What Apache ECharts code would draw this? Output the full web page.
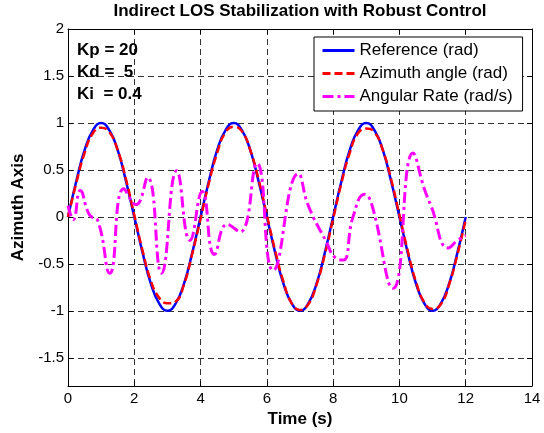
<!DOCTYPE html>
<html>
<head>
<meta charset="utf-8">
<script src="https://cdn.jsdelivr.net/npm/echarts@6/dist/echarts.min.js"></script>
<style>
  html, body { margin: 0; padding: 0; background: #fff; }
  #chart { width: 544px; height: 433px; }
</style>
</head>
<body>
<div id="chart"></div>
<script>
// time samples for the two sine-like curves (s)
const timeSteps = [0, 0.25, 0.5, 0.75, 1, 1.25, 1.5, 1.75, 2, 2.25, 2.5, 2.75, 3, 3.25, 3.5, 3.75,
    4, 4.25, 4.5, 4.75, 5, 5.25, 5.5, 5.75, 6, 6.25, 6.5, 6.75, 7, 7.25, 7.5, 7.75,
    8, 8.25, 8.5, 8.75, 9, 9.25, 9.5, 9.75, 10, 10.25, 10.5, 10.75, 11, 11.25, 11.5, 11.75, 12];

// Reference (rad)
const referenceValues = [0, 0.38, 0.71, 0.92, 1, 0.92, 0.71, 0.38, 0, -0.38, -0.71, -0.92, -1, -0.92, -0.71, -0.38,
    0, 0.38, 0.71, 0.92, 1, 0.92, 0.71, 0.38, 0, -0.38, -0.71, -0.92, -1, -0.92, -0.71, -0.38,
    0, 0.38, 0.71, 0.92, 1, 0.92, 0.71, 0.38, 0, -0.38, -0.71, -0.92, -1, -0.92, -0.71, -0.38, 0];

// Azimuth angle (rad), red dashed curve
const azimuthValues = [0, 0.36, 0.68, 0.89, 0.95, 0.9, 0.71, 0.4, 0.02, -0.36, -0.68, -0.86, -0.92, -0.9, -0.72, -0.39,
    -0.02, 0.36, 0.68, 0.9, 0.96, 0.91, 0.71, 0.4, 0.02, -0.36, -0.69, -0.92, -0.99, -0.93, -0.72, -0.4,
    -0.02, 0.36, 0.68, 0.89, 0.94, 0.9, 0.71, 0.4, 0.02, -0.36, -0.69, -0.91, -0.98, -0.93, -0.72, -0.4, -0.03];

// Angular rate (rad/s), magenta dash-dot curve: time and value pairs
const rateTimes = [0, 0.16, 0.37, 0.65, 0.9, 1.26, 1.68, 2.05, 2.4, 2.82, 3.28, 3.68, 4.05, 4.42, 4.8, 5.19,
    5.7, 6.19, 6.95, 7.25, 7.8, 8.05, 8.3, 8.6, 8.95, 9.15, 9.81, 10.41, 10.75, 10.95, 11.48, 11.75, 12];
const rateValues = [0.12, -0.03, 0.28, 0.02, -0.04, -0.6, 0.3, 0.13, 0.42, -0.6, 0.49, -0.25, 0.27, -0.4, -0.08, -0.16,
    0.57, -0.57, 0.46, 0.12, -0.27, -0.43, -0.46, 0.0, 0.24, 0.15, -0.76, 0.68, 0.3, 0.12, -0.33, -0.25, -0.2];

const yTickValues = [-1.5, -1, -0.5, 0, 0.5, 1, 1.5, 2];
const seriesNames = ['Reference (rad)', 'Azimuth angle (rad)', 'Angular Rate (rad/s)'];

const fontFamily = 'Liberation Sans, Arial, sans-serif';

function pairs(xs, ys) {
    return xs.map((x, i) => [x, ys[i]]);
}

const gridLine = {
    show: true,
    lineStyle: {color: '#333', width: 1, type: [6, 4]}
};
const axisLine = {show: true, onZero: false, lineStyle: {color: '#000', width: 1}};
const axisTick = {show: true, inside: true, length: 5, lineStyle: {color: '#000'}};

let myChart = echarts.init(document.getElementById('chart'), null, {renderer: 'canvas'});

let option = {
    backgroundColor: '#fff',
    animation: false,
    title: {
        text: 'Indirect LOS Stabilization with Robust Control',
        left: 300,
        top: 3,
        padding: 0,
        textAlign: 'center',
        textStyle: {fontFamily: fontFamily, fontSize: 17, fontWeight: 'bold', color: '#000'}
    },
    legend: {
        data: seriesNames,
        orient: 'vertical',
        left: 314,
        top: 37,
        padding: [5, 10, 6, 7],
        itemWidth: 32,
        itemHeight: 14,
        itemGap: 6,
        backgroundColor: '#fff',
        borderColor: '#000',
        borderWidth: 1,
        itemStyle: {opacity: 0},
        lineStyle: {width: 3},
        textStyle: {fontFamily: fontFamily, fontSize: 17, color: '#000', lineHeight: 17}
    },
    grid: {left: 68, right: 12, top: 29, bottom: 44},
    xAxis: [
        {
            type: 'value',
            min: 0,
            max: 14,
            interval: 2,
            position: 'bottom',
            name: 'Time (s)',
            nameLocation: 'middle',
            nameGap: 25,
            nameTextStyle: {fontFamily: fontFamily, fontSize: 17, fontWeight: 'bold', color: '#000'},
            axisLine: axisLine,
            axisTick: axisTick,
            axisLabel: {fontFamily: fontFamily, fontSize: 15, color: '#000', margin: 5},
            splitLine: gridLine
        },
        {
            type: 'value',
            min: 0,
            max: 14,
            interval: 2,
            position: 'top',
            axisLine: axisLine,
            axisTick: axisTick,
            axisLabel: {show: false},
            splitLine: {show: false}
        }
    ],
    yAxis: [
        {
            type: 'value',
            min: -1.8,
            max: 2,
            position: 'left',
            name: 'Azimuth Axis',
            nameLocation: 'middle',
            nameRotate: 90,
            nameGap: 37,
            nameTextStyle: {fontFamily: fontFamily, fontSize: 17, fontWeight: 'bold', color: '#000'},
            axisLine: axisLine,
            axisTick: Object.assign({customValues: yTickValues}, axisTick),
            axisLabel: {customValues: yTickValues, fontFamily: fontFamily, fontSize: 15, color: '#000', margin: 4},
            splitLine: gridLine
        },
        {
            type: 'value',
            min: -1.8,
            max: 2,
            position: 'right',
            axisLine: axisLine,
            axisTick: Object.assign({customValues: yTickValues}, axisTick),
            axisLabel: {show: false},
            splitLine: {show: false}
        }
    ],
    graphic: [
        {
            type: 'text',
            left: 77,
            top: 39,
            style: {
                text: 'Kp = 20\nKd =  5\nKi  = 0.4',
                font: 'bold 17px ' + fontFamily,
                lineHeight: 22,
                fill: '#000'
            },
            z: 10
        }
    ],
    series: [
        {
            name: seriesNames[0],
            type: 'line',
            data: pairs(timeSteps, referenceValues),
            smooth: true,
            symbol: 'none',
            color: '#0000ff',
            lineStyle: {width: 2.5, type: 'solid'}
        },
        {
            name: seriesNames[1],
            type: 'line',
            data: pairs(timeSteps, azimuthValues),
            smooth: true,
            symbol: 'none',
            color: '#ff0000',
            lineStyle: {width: 2.5, type: [8, 4]}
        },
        {
            name: seriesNames[2],
            type: 'line',
            data: pairs(rateTimes, rateValues),
            smooth: 0.5,
            symbol: 'none',
            color: '#ff00ff',
            lineStyle: {width: 3, type: [11, 4, 3, 4]}
        }
    ]
};

myChart.setOption(option);
</script>
</body>
</html>
